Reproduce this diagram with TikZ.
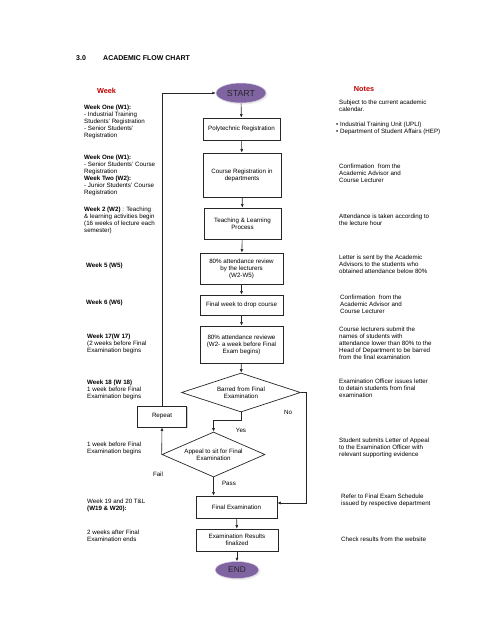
\documentclass[tikz,border=0pt]{standalone}
\usepackage{fontspec}
\setmainfont{Liberation Sans}
\usetikzlibrary{shapes.geometric,shadows,arrows.meta}
\definecolor{hdred}{HTML}{C00000}
\definecolor{ovalpurple}{HTML}{8064A2}
\begin{document}
\begin{tikzpicture}[x=1pt,y=-1pt,
  every node/.style={font=\fontsize{6.2}{7}\selectfont},
  lbl/.style={anchor=west,inner sep=0pt,align=left},
  procbox/.style={draw=black!85,line width=0.8pt,fill=white,align=center,inner sep=1pt,
    drop shadow={shadow xshift=1.2pt,shadow yshift=-1.2pt,fill=black!40}},
  decision/.style={diamond,draw=black!85,line width=0.7pt,fill=white,align=center,inner sep=0pt,aspect=3},
  terminal/.style={ellipse,fill=ovalpurple,draw=white!70!ovalpurple,line width=0.5pt,inner sep=0pt,
    drop shadow={shadow xshift=1.5pt,shadow yshift=-1.5pt,fill=black!15},
    font=\fontsize{8.8}{10}\selectfont,text=black!85},
  flow/.style={-{Latex[length=3.5pt,width=3pt]},line width=0.6pt,draw=black!85},
  heading/.style={font=\fontsize{7.3}{8}\selectfont\bfseries,text=hdred,inner sep=0pt},
  titletxt/.style={font=\fontsize{7}{8}\selectfont\bfseries,anchor=west,inner sep=0pt},
  edgelbl/.style={inner sep=0pt}
]
\useasboundingbox (0,0) rectangle (495,640);

% title and headings
\node[titletxt] (num) at (76,58) {3.0};
\node[titletxt] (title) at (103,58) {ACADEMIC FLOW CHART};
\node[heading] (weekhd) at (106.5,91) {Week};
\node[heading] (noteshd) at (364,89) {Notes};

% central flow
\node[terminal,minimum width=50pt,minimum height=20pt] (start) at (241,93) {START};
\node[procbox,minimum width=77pt,minimum height=22pt] (poly) at (241.5,129) {Polytechnic Registration};
\node[procbox,minimum width=78pt,minimum height=44pt] (course) at (242,175) {Course Registration in\\departments};
\node[procbox,minimum width=77pt,minimum height=31pt] (teach) at (242.5,223.5) {Teaching \& Learning\\Process};
\node[procbox,minimum width=83pt,minimum height=31pt] (rev1) at (241.5,268.5) {80\% attendance review\\by the lecturers\\(W2-W5)};
\node[procbox,minimum width=83pt,minimum height=20pt] (drop) at (241.5,305) {Final week to drop course};
\node[procbox,minimum width=83pt,minimum height=37pt] (rev2) at (241.5,344.5) {80\% attendance reviewe\\(W2- a week before Final\\Exam begins)};
\node[decision,minimum width=119pt,minimum height=39pt] (barred) at (241,392.5) {Barred from Final\\Examination};
\node[decision,minimum width=103pt,minimum height=45pt,aspect=2.5] (appeal) at (213.5,454.5) {Appeal to sit for Final\\Examination};
\node[procbox,minimum width=49pt,minimum height=21pt] (repeat) at (162,416.5) {Repeat};
\node[procbox,minimum width=81pt,minimum height=22pt] (final) at (236.5,507) {Final Examination};
\node[procbox,minimum width=82pt,minimum height=22pt] (results) at (237,540) {Examination Results\\finalized};
\node[terminal,minimum width=44pt,minimum height=17pt,font=\fontsize{8.3}{10}\selectfont] (end) at (237,570) {END};

% connectors
\draw[flow] (start) -- (poly);
\draw[flow] (poly) -- (course);
\draw[flow] (course) -- (teach);
\draw[flow] (teach) -- (rev1);
\draw[flow] (rev1) -- (drop);
\draw[flow] (drop) -- (rev2);
\draw[flow] (rev2) -- (barred);
\draw[flow] (barred.south) -- ++(0,8) -| (appeal.north);
\draw[flow] (barred.east) -- ++(5,0) |- ([yshift=4pt]final.east);
\draw[flow] (appeal.south) -- (appeal.south |- final.north);
\draw[flow] (appeal.west) -- (repeat.south);
\draw[flow] (repeat.north) |- (start.west);
\draw[flow] (final) -- (results);
\draw[flow] (results) -- (end);

% edge labels
\node[edgelbl] (yes) at (241,430) {Yes};
\node[edgelbl] (no) at (288,412) {No};
\node[edgelbl] (pass) at (229,483) {Pass};
\node[edgelbl] (fail) at (158,474) {Fail};

% week column
\node[lbl] (w1) at (84,122) {\textbf{Week One (W1):}\\- Industrial Training\\Students' Registration\\- Senior Students'\\Registration};
\node[lbl] (w1b) at (84,175) {\textbf{Week One (W1):}\\- Senior Students' Course\\Registration\\\textbf{Week Two (W2):}\\- Junior Students' Course\\Registration};
\node[lbl] (w2) at (84,220.5) {\textbf{Week 2 (W2)} : Teaching\\\& learning activities begin\\(16 weeks of lecture each\\semester)};
\node[lbl] (w5) at (86,266) {\textbf{Week 5 (W5)}};
\node[lbl] (w6) at (86,303) {\textbf{Week 6 (W6)}};
\node[lbl] (w17) at (87,344) {\textbf{Week 17(W 17)}\\(2 weeks before Final\\Examination begins};
\node[lbl] (w18) at (87,390) {\textbf{Week 18 (W 18)}\\1 week before Final\\Examination begins};
\node[lbl] (w18b) at (87,448) {1 week before Final\\Examination begins};
\node[lbl] (w19) at (87,505.5) {Week 19 and 20 T\&L\\\textbf{(W19 \& W20):}};
\node[lbl] (wend) at (87,536) {2 weeks after Final\\Examination ends};

% notes column
\node[lbl] (n1) at (339,105.5) {Subject to the current academic\\calendar.};
\node[lbl] (n2) at (336,128.5) {\textbullet\ Industrial Training Unit (UPLI)\\\textbullet\ Department of Student Affairs (HEP)};
\node[lbl] (n3) at (339,173) {Confirmation\ \ from the\\Academic Advisor and\\Course Lecturer};
\node[lbl] (n4) at (339,219.5) {Attendance is taken according to\\the lecture hour};
\node[lbl] (n5) at (339,264) {Letter is sent by the Academic\\Advisors to the students who\\obtained attendance below 80\%};
\node[lbl] (n6) at (340,304) {Confirmation\ \ from the\\Academic Advisor and\\Course Lecturer};
\node[lbl] (n7) at (339,343) {Course lecturers submit the\\names of students with\\attendance lower than 80\% to the\\Head of Department to be barred\\from the final examination};
\node[lbl] (n8) at (339,388) {Examination Officer issues letter\\to detain students from final\\examination};
\node[lbl] (n9) at (339,447.5) {Student submits Letter of Appeal\\to the Examination Officer with\\relevant supporting evidence};
\node[lbl] (n10) at (341,500.5) {Refer to Final Exam Schedule\\issued by respective department};
\node[lbl] (n11) at (341,539) {Check results from the website};
\end{tikzpicture}
\end{document}
